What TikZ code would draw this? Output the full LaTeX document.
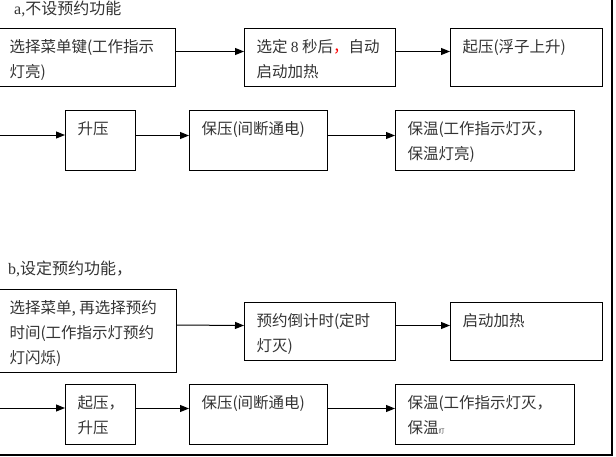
\documentclass[tikz,border=0pt]{standalone}
\usepackage{fontspec}
\setmainfont{Liberation Serif}
\newfontfamily\cjk{Noto Sans CJK SC}
\usetikzlibrary{arrows.meta}
\newcommand{\steptxt}[3]{\parbox[c][#2][t]{#1}{\raggedright\rule{0pt}{24pt}#3}}
\tikzset{
  stepbox/.style={draw, line width=1pt, inner xsep=12pt, inner ysep=0pt, anchor=north west,
    text=black!80, font=\cjk\fontsize{15.5}{25}\selectfont},
  flow/.style={-{Triangle[length=9pt,width=7pt]}, line width=1pt},
  heading/.style={anchor=base west, inner sep=0pt, text=black!80, font=\fontsize{16}{18}\selectfont}
}
\begin{document}
\begin{tikzpicture}[x=1pt,y=-1pt]
  \useasboundingbox (0,0) rectangle (616,456);
  \node[heading] (ta) at (14,14) {a,{\cjk 不设预约功能}};
  \node[stepbox] (a1) at (-3,28) {\steptxt{154pt}{58pt}{选择菜单键(工作指示\\灯亮)}};
  \node[stepbox] (a2) at (244,28) {\steptxt{127pt}{58pt}{选定 {\rmfamily 8} 秒后{\color{red}，}自动\\启动加热}};
  \node[stepbox] (a3) at (450,28) {\steptxt{128pt}{58pt}{起压(浮子上升)}};
  \coordinate (in2) at (0,135);
  \node[stepbox] (r1) at (65,110) {\steptxt{46pt}{60pt}{升压}};
  \node[stepbox] (r2) at (189,110) {\steptxt{114pt}{60pt}{保压(间断通电)}};
  \node[stepbox] (r3) at (395,110) {\steptxt{155pt}{60pt}{保温(工作指示灯灭，\\保温灯亮)}};
  \draw[flow] ([yshift=6pt]a1.east) -- ([yshift=6pt]a2.west);
  \draw[flow] ([yshift=6pt]a2.east) -- ([yshift=6pt]a3.west);
  \draw[flow] (in2) -- (in2 -| r1.west);
  \draw[flow] ([yshift=5pt]r1.east) -- ([yshift=5pt]r2.west);
  \draw[flow] ([yshift=5pt]r2.east) -- ([yshift=5pt]r3.west);

  \node[heading] (tb) at (8,274) {b,{\cjk 设定预约功能，}};
  \node[stepbox] (b1) at (-3,289) {\steptxt{155pt}{83pt}{选择菜单, 再选择预约\\时间(工作指示灯预约\\灯闪烁)}};
  \node[stepbox] (b2) at (244,302) {\steptxt{127pt}{58pt}{预约倒计时(定时\\灯灭)}};
  \node[stepbox] (b3) at (450,302) {\steptxt{128pt}{58pt}{启动加热}};
  \coordinate (in4) at (0,408);
  \node[stepbox] (c1) at (65,384) {\steptxt{46pt}{60pt}{起压，\\升压}};
  \node[stepbox] (c2) at (189,384) {\steptxt{114pt}{60pt}{保压(间断通电)}};
  \node[stepbox] (c3) at (395,384) {\steptxt{155pt}{60pt}{保温(工作指示灯灭，\\保温{\fontsize{6}{6}\selectfont 灯}}};
  \draw[flow] ([yshift=6pt]b1.east) -- ([yshift=6pt]b2.west);
  \draw[flow] ([yshift=6pt]b2.east) -- ([yshift=6pt]b3.west);
  \draw[flow] (in4) -- (in4 -| c1.west);
  \draw[flow] ([yshift=6pt]c1.east) -- ([yshift=6pt]c2.west);
  \draw[flow] ([yshift=6pt]c2.east) -- ([yshift=6pt]c3.west);

  \draw[line width=1.2pt] (612,0) -- (612,455) -- (0,455);
\end{tikzpicture}
\end{document}
